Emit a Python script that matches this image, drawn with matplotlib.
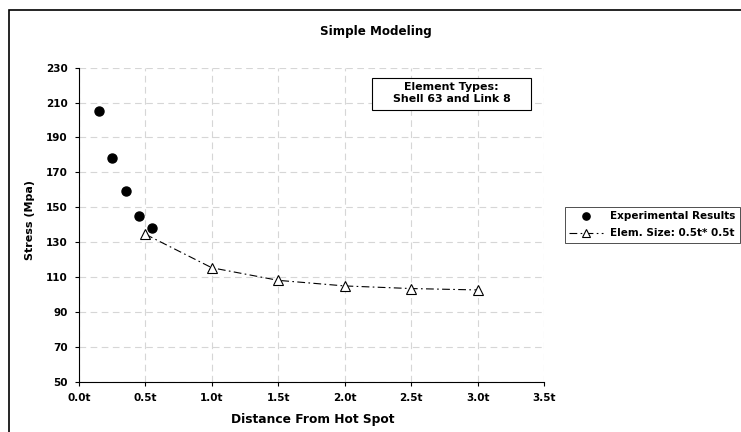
import numpy as np
import matplotlib
matplotlib.use("Agg")
import matplotlib.pyplot as plt
from matplotlib.patches import Rectangle

# Breite, fette Schrift (Referenz wirkt horizontal gestreckt)
plt.rcParams['font.family'] = ['DejaVu Sans']
plt.rcParams['font.weight'] = 'bold'

# Daten
exp_x = [0.15, 0.25, 0.35, 0.45, 0.55]
exp_y = [205.2, 178.2, 159.3, 145.2, 138.0]

fem_x = [0.5, 1.0, 1.5, 2.0, 2.5, 3.0]
fem_y = [134.5, 115.3, 108.1, 104.9, 103.4, 102.6]

x_ticks = [0.0, 0.5, 1.0, 1.5, 2.0, 2.5, 3.0, 3.5]
x_labels = ["0.0t", "0.5t", "1.0t", "1.5t", "2.0t", "2.5t", "3.0t", "3.5t"]
y_ticks = [50, 70, 90, 110, 130, 150, 170, 190, 210, 230]

W, H = 741, 432
fig = plt.figure(figsize=(W / 100, H / 100), dpi=100)

# Rahmen des Diagrammbereichs (rechts/unten ausserhalb des Bildes)
fig.patches.append(Rectangle((9 / W, -0.1), 1.2, 1.1 - 10 / H,
                             transform=fig.transFigure, fill=False,
                             edgecolor="black", linewidth=1.2, zorder=0))

ax = fig.add_axes([79 / W, 1 - 381.7 / H, 465 / W, 314 / H])

ax.plot(exp_x, exp_y, linestyle="none", marker="o", markersize=6.5,
        color="black", label="Experimental Results", zorder=3)
ax.plot(fem_x, fem_y, linestyle=(0, (7, 3, 1.5, 3)), linewidth=0.8,
        color="black", marker="^", markersize=7.5, markerfacecolor="white",
        markeredgecolor="black", markeredgewidth=0.8,
        label="Elem. Size: 0.5t* 0.5t", zorder=3)

ax.set_xlim(0, 3.5)
ax.set_ylim(50, 230)
ax.set_xticks(x_ticks)
ax.set_xticklabels(x_labels)
ax.set_yticks(y_ticks)
ax.tick_params(labelsize=7.5, length=3, width=0.8, pad=5)

ax.grid(True, color="#d6d6d6", linestyle=(0, (6, 4)), linewidth=0.8)
ax.spines["top"].set_visible(False)
ax.spines["right"].set_visible(False)

fig.text(313 / W, 1 - 420 / H, "Distance From Hot Spot", ha="center",
         va="center", fontsize=8.8, fontweight="bold")
fig.text(30 / W, 1 - 220 / H, "Stress (Mpa)", ha="center", va="center",
         rotation=90, fontsize=8, fontweight="bold")

fig.text(376 / W, 1 - 31 / H, "Simple Modeling", ha="center", va="center",
         fontsize=8.6, fontweight="bold")

# Textbox mit Elementtypen
fig.patches.append(Rectangle((372 / W, 1 - 110 / H), 159 / W, 32 / H,
                             transform=fig.transFigure, facecolor="white",
                             edgecolor="black", linewidth=0.8, zorder=5))
fig.text(451.5 / W, 1 - 93.5 / H, "Element Types:\nShell 63 and Link 8",
         ha="center", va="center", fontsize=7.9, fontweight="bold",
         linespacing=1.25, zorder=6)

leg = fig.legend(loc="upper left", bbox_to_anchor=(565 / W, 1 - 207 / H),
                 fontsize=7.5, frameon=True, fancybox=False, edgecolor="black",
                 handlelength=3.2, handletextpad=0.75, borderpad=0.4,
                 borderaxespad=0, labelspacing=0.7, markerscale=0.8)
leg.get_frame().set_linewidth(0.6)

fig.savefig("out.png", dpi=100)
